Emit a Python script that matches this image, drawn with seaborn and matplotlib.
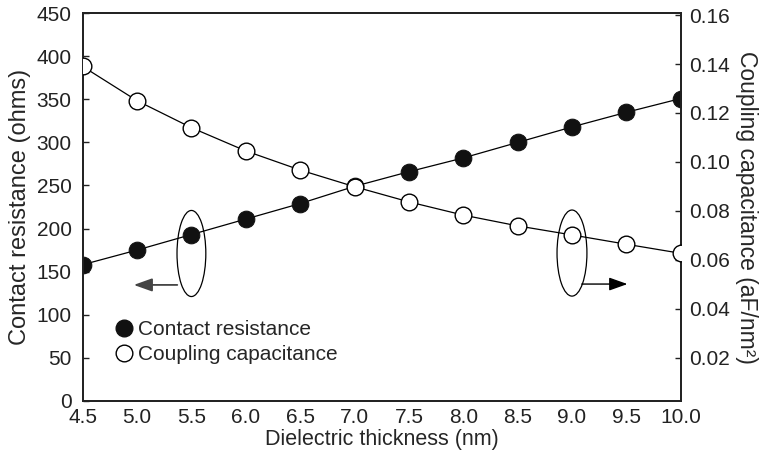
import numpy as np
import matplotlib
matplotlib.use("Agg")
import matplotlib.pyplot as plt
import seaborn as sns
from matplotlib.patches import Ellipse
from matplotlib.lines import Line2D

# values
thickness = [4.5, 5.0, 5.5, 6.0, 6.5, 7.0, 7.5, 8.0, 8.5, 9.0, 9.5, 10.0]
resistance = [158, 175, 193, 211, 229, 249, 266, 282, 300, 318, 335, 351]
capacitance = [0.139, 0.125, 0.114, 0.1045, 0.0967, 0.0899, 0.0837, 0.0783,
               0.0739, 0.0702, 0.0664, 0.0627]

x_ticks = [4.5, 5.0, 5.5, 6.0, 6.5, 7.0, 7.5, 8.0, 8.5, 9.0, 9.5, 10.0]
left_ticks = [0, 50, 100, 150, 200, 250, 300, 350, 400, 450]
right_ticks = [0.02, 0.04, 0.06, 0.08, 0.10, 0.12, 0.14, 0.16]

sns.set_style("white")
plt.rcParams['font.family'] = ['Liberation Sans', 'DejaVu Sans']
plt.rcParams['font.size'] = 14

fig = plt.figure(figsize=(7.67, 4.59), dpi=100)
ax = fig.add_axes([0.1078, 0.127, 0.7797, 0.844])
ax2 = ax.twinx()

# contact resistance, filled circles
sns.lineplot(x=thickness, y=resistance, ax=ax, color="black", linewidth=0.9,
             marker="o", markersize=12, markerfacecolor="#111111",
             markeredgecolor="#111111", zorder=3)
# coupling capacitance, open circles
sns.lineplot(x=thickness, y=capacitance, ax=ax2, color="black", linewidth=0.9,
             marker="o", markersize=12, markerfacecolor="white",
             markeredgecolor="black", markeredgewidth=1.0, zorder=3)

ax.set_xlim(4.5, 10.0)
ax.set_ylim(0, 450)
ax2.set_ylim(0.0025, 0.1607)
ax.set_xticks(x_ticks)
ax.set_xticklabels([f"{t:.1f}" for t in x_ticks])
ax.set_yticks(left_ticks)
ax2.set_yticks(right_ticks)
ax2.set_yticklabels([f"{t:.2f}" for t in right_ticks])

ax.tick_params(axis="both", direction="in", length=4, width=1, labelsize=15,
               colors="#222222", labelcolor="#222222")
ax.tick_params(axis="y", pad=8, right=False)
ax.tick_params(axis="x", pad=5, top=False)
ax2.tick_params(axis="y", direction="in", length=4, width=1, labelsize=15,
                pad=6, colors="#222222", labelcolor="#222222")

for a in (ax, ax2):
    for s in a.spines.values():
        s.set_linewidth(1.3)
        s.set_color("#222222")
        s.set_visible(True)

ax.set_xlabel("Dielectric thickness (nm)", fontsize=15.5, labelpad=2)
ax.set_ylabel("Contact resistance (ohms)", fontsize=17, labelpad=4)
ax2.set_ylabel("Coupling capacitance (aF/nm²)", fontsize=16.5, rotation=270,
               labelpad=20)

# ellipses and arrows pointing at the matching axis
ax.add_patch(Ellipse((5.5, 171), 0.265, 100, fill=False, edgecolor="black",
                     linewidth=0.9, zorder=4))
ax.add_patch(Ellipse((9.0, 171.5), 0.275, 100, fill=False, edgecolor="black",
                     linewidth=0.9, zorder=4))
ax.annotate("", xy=(4.97, 134.5), xytext=(5.37, 134.5),
            arrowprops=dict(arrowstyle="-|>,head_length=0.7,head_width=0.25",
                            color="#444444", lw=1.3,
                            mutation_scale=16, shrinkA=0, shrinkB=0))
ax.annotate("", xy=(9.51, 135.5), xytext=(9.09, 135.5),
            arrowprops=dict(arrowstyle="-|>,head_length=0.7,head_width=0.25",
                            color="black", lw=1.0,
                            mutation_scale=16, shrinkA=0, shrinkB=0))

handles = [
    Line2D([], [], linestyle="none", marker="o", markersize=12,
           markerfacecolor="#111111", markeredgecolor="#111111"),
    Line2D([], [], linestyle="none", marker="o", markersize=12,
           markerfacecolor="white", markeredgecolor="black"),
]
ax.legend(handles, ["Contact resistance", "Coupling capacitance"],
          loc="upper left", bbox_to_anchor=(0.035, 0.23), frameon=False,
          fontsize=15, handletextpad=0.05, handlelength=1.2,
          labelspacing=0.3, borderaxespad=0)

fig.savefig("out.png", dpi=100)
